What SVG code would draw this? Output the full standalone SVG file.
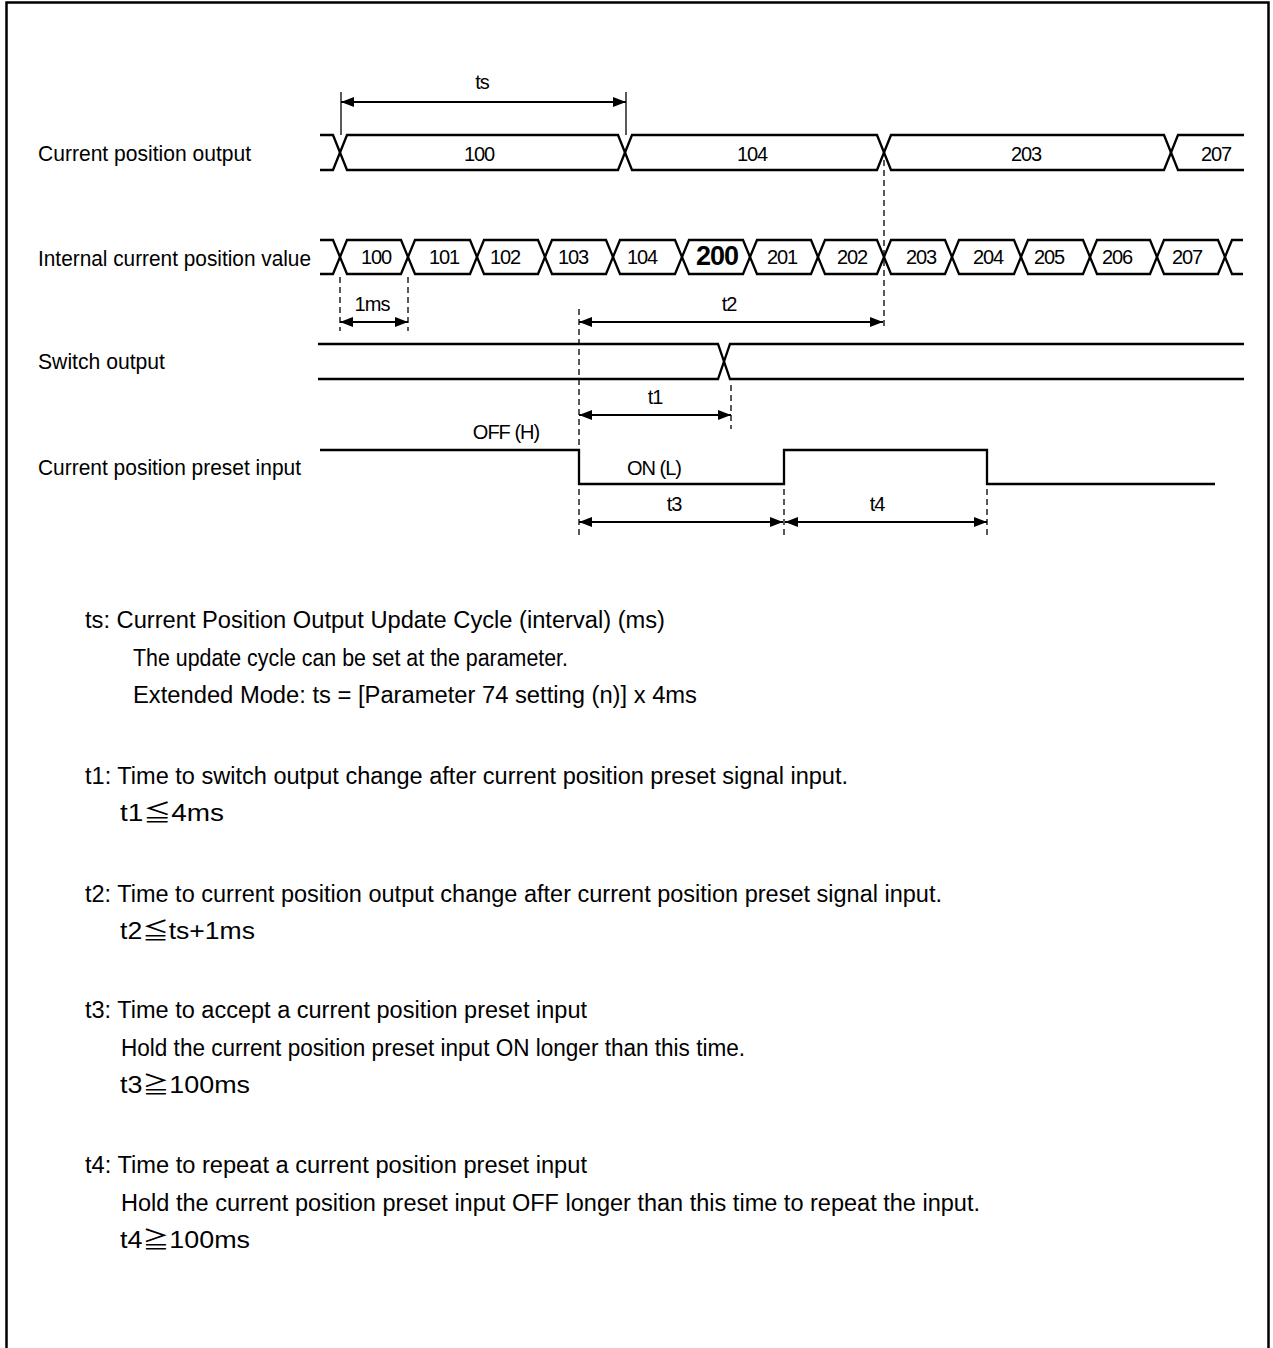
<svg xmlns="http://www.w3.org/2000/svg" width="1273" height="1348" viewBox="0 0 1273 1348">
<style>
text{font-family:"Liberation Sans","Noto Sans CJK JP",sans-serif;fill:#000}
.lbl{font-size:22px}
.txt{font-size:23px}
.val{font-size:20px;text-anchor:middle;letter-spacing:-1.2px}
.big{font-size:27px;font-weight:bold;text-anchor:middle;letter-spacing:-1px}
.note{font-size:20px;text-anchor:middle;letter-spacing:-1px}
.sig{fill:none;stroke:#000;stroke-width:2.3;stroke-linejoin:miter}
.dim{fill:none;stroke:#000;stroke-width:2;marker-start:url(#ah);marker-end:url(#ah)}
.dash{fill:none;stroke:#000;stroke-width:1.3;stroke-dasharray:6 4}
.ext{fill:none;stroke:#000;stroke-width:1.3}
</style>
<defs>
<marker id="ah" viewBox="0 0 13 10" refX="13" refY="5" markerWidth="13" markerHeight="10" markerUnits="userSpaceOnUse" orient="auto-start-reverse">
<path d="M0,0 L13,5 L0,10 Z" fill="#000"/>
</marker>
</defs>
<rect width="1273" height="1348" fill="#fff"/>
<path d="M6.5,1350 V2.5 H1268.5 V1350" fill="none" stroke="#000" stroke-width="2.5"/>

<g id="labels">
<text class="lbl" x="38" y="161" textLength="213" lengthAdjust="spacingAndGlyphs">Current position output</text>
<text class="lbl" x="38" y="266" textLength="273" lengthAdjust="spacingAndGlyphs">Internal current position value</text>
<text class="lbl" x="38" y="369" textLength="127" lengthAdjust="spacingAndGlyphs">Switch output</text>
<text class="lbl" x="38" y="475" textLength="263" lengthAdjust="spacingAndGlyphs">Current position preset input</text>
</g>

<g id="current-position-output">
<polyline class="sig" points="320,135 333,135 347,170 618,170 632,135 877,135 891,170 1164,170 1178,135 1244,135"/>
<polyline class="sig" points="320,170 333,170 347,135 618,135 632,170 877,170 891,135 1164,135 1178,170 1244,170"/>
<text class="val" x="479" y="161">100</text>
<text class="val" x="752" y="161">104</text>
<text class="val" x="1026" y="161">203</text>
<text class="val" x="1216" y="161">207</text>
</g>

<g id="internal-current-position-value">
<polyline class="sig" points="320,240 333,240 347,274 401,274 415,240 470,240 484,274 538,274 552,240 606,240 620,274 675,274 689,240 743,240 757,274 811,274 825,240 877,240 891,274 945,274 959,240 1014,240 1028,274 1083,274 1097,240 1150,240 1164,274 1218,274 1232,240 1243,240"/>
<polyline class="sig" points="320,274 333,274 347,240 401,240 415,274 470,274 484,240 538,240 552,274 606,274 620,240 675,240 689,274 743,274 757,240 811,240 825,274 877,274 891,240 945,240 959,274 1014,274 1028,240 1083,240 1097,274 1150,274 1164,240 1218,240 1232,274 1243,274"/>
<text class="val" x="376" y="264">100</text>
<text class="val" x="444" y="264">101</text>
<text class="val" x="505" y="264">102</text>
<text class="val" x="573" y="264">103</text>
<text class="val" x="642" y="264">104</text>
<text class="big" x="717" y="265">200</text>
<text class="val" x="782" y="264">201</text>
<text class="val" x="852" y="264">202</text>
<text class="val" x="921" y="264">203</text>
<text class="val" x="988" y="264">204</text>
<text class="val" x="1049" y="264">205</text>
<text class="val" x="1117" y="264">206</text>
<text class="val" x="1187" y="264">207</text>
</g>

<g id="switch-output">
<polyline class="sig" points="318,344 718,344 730,379 1244,379"/>
<polyline class="sig" points="318,379 718,379 730,344 1244,344"/>
</g>

<g id="current-position-preset-input">
<polyline class="sig" points="320,450 579,450 579,484 784,484 784,450 987,450 987,484 1215,484"/>
<text class="note" x="506" y="439">OFF (H)</text>
<text class="note" x="654" y="475">ON (L)</text>
</g>

<g id="connectors">
<line class="ext" x1="341" y1="92" x2="341" y2="135"/>
<line class="ext" x1="626" y1="92" x2="626" y2="135"/>
<line class="dim" x1="341" y1="102" x2="626" y2="102"/>
<text class="note" x="482" y="89">ts</text>

<line class="dash" x1="884" y1="150" x2="884" y2="330"/>
<line class="dash" x1="340" y1="277" x2="340" y2="331"/>
<line class="dash" x1="408" y1="277" x2="408" y2="331"/>
<line class="dim" x1="340" y1="322" x2="408" y2="322"/>
<text class="note" x="372" y="311">1ms</text>

<line class="dash" x1="579" y1="309" x2="579" y2="538"/>
<line class="dim" x1="579" y1="322" x2="883" y2="322"/>
<text class="note" x="729" y="311">t2</text>

<line class="dash" x1="731" y1="385" x2="731" y2="429"/>
<line class="dim" x1="579" y1="415" x2="731" y2="415"/>
<text class="note" x="655" y="404">t1</text>

<line class="dash" x1="784" y1="489" x2="784" y2="538"/>
<line class="dash" x1="987" y1="489" x2="987" y2="538"/>
<line class="dim" x1="579" y1="522" x2="783" y2="522"/>
<line class="dim" x1="785" y1="522" x2="987" y2="522"/>
<text class="note" x="674" y="511">t3</text>
<text class="note" x="877" y="511">t4</text>
</g>

<g id="notes">
<text class="txt" x="85" y="628" textLength="580" lengthAdjust="spacingAndGlyphs">ts: Current Position Output Update Cycle (interval) (ms)</text>
<text class="txt" x="133" y="666" textLength="435" lengthAdjust="spacingAndGlyphs">The update cycle can be set at the parameter.</text>
<text class="txt" x="133" y="703" textLength="564" lengthAdjust="spacingAndGlyphs">Extended Mode: ts = [Parameter 74 setting (n)] x 4ms</text>
<text class="txt" x="85" y="784" textLength="763" lengthAdjust="spacingAndGlyphs">t1: Time to switch output change after current position preset signal input.</text>
<text class="txt" x="120" y="821" textLength="104" lengthAdjust="spacingAndGlyphs">t1≦4ms</text>
<text class="txt" x="85" y="902" textLength="857" lengthAdjust="spacingAndGlyphs">t2: Time to current position output change after current position preset signal input.</text>
<text class="txt" x="120" y="939" textLength="135" lengthAdjust="spacingAndGlyphs">t2≦ts+1ms</text>
<text class="txt" x="85" y="1018" textLength="502" lengthAdjust="spacingAndGlyphs">t3: Time to accept a current position preset input</text>
<text class="txt" x="121" y="1056" textLength="624" lengthAdjust="spacingAndGlyphs">Hold the current position preset input ON longer than this time.</text>
<text class="txt" x="120" y="1093" textLength="130" lengthAdjust="spacingAndGlyphs">t3≧100ms</text>
<text class="txt" x="85" y="1173" textLength="502" lengthAdjust="spacingAndGlyphs">t4: Time to repeat a current position preset input</text>
<text class="txt" x="121" y="1211" textLength="859" lengthAdjust="spacingAndGlyphs">Hold the current position preset input OFF longer than this time to repeat the input.</text>
<text class="txt" x="120" y="1248" textLength="130" lengthAdjust="spacingAndGlyphs">t4≧100ms</text>
</g>
</svg>
